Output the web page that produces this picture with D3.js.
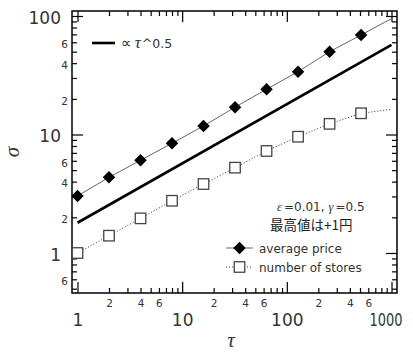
<!DOCTYPE html>
<html>
<head>
<meta charset="utf-8">
<script src="https://cdn.jsdelivr.net/npm/d3@7/dist/d3.min.js"></script>
<style>
  html, body { margin: 0; padding: 0; background: #fff; }
  svg { display: block; }
</style>
</head>
<body>
<script>
// data (tau = 1..512 by powers of two, line tails end at 1000)
const tau = [1, 2, 4, 8, 16, 32, 64, 128, 256, 512, 1000];
const avgPrice = [3.03, 4.35, 6.06, 8.43, 11.8, 17.0, 24.1, 33.9, 50.0, 69.2, 95];
const numStores = [1.0, 1.40, 1.96, 2.76, 3.82, 5.25, 7.26, 9.58, 12.3, 15.1, 16.3];
const markerCount = 10; // last point is only the end of the line

const refTau = [1, 1000];
const refSigma = [1.8, 57];

const xMajor = [1, 10, 100, 1000];
const xMajorLabels = ['1', '10', '100', '1000'];
const yMajor = [1, 10, 100];
const yMajorLabels = ['1', '10', '100'];
const minorSteps = [2, 3, 4, 5, 6, 7, 8, 9];
const minorLabelled = [2, 4, 6];

const W = 413, H = 353;
const frame = { left: 72, top: 11, right: 397, bottom: 293 };
const sans = 'DejaVu Sans, sans-serif';
const serif = 'Liberation Serif, DejaVu Serif, serif';

const x = d3.scaleLog().domain([1, 1000]).range([77.5, 391.5]);
const y = d3.scaleLog().domain([1, 100]).range([253, 16]);

const xLo = x.invert(frame.left), xHi = x.invert(frame.right);
const yLo = y.invert(frame.bottom), yHi = y.invert(frame.top);

const xMinor = [1, 10, 100].flatMap(d => minorSteps.map(m => m * d)).filter(v => v > xLo && v < xHi);
const yMinor = [0.1, 1, 10].flatMap(d => minorSteps.map(m => m * d)).filter(v => v > yLo && v < yHi);

const minorFmt = v => {
  const m = Math.round(v / Math.pow(10, Math.floor(Math.log10(v) + 1e-9)));
  return minorLabelled.includes(m) ? String(m) : '';
};

const svg = d3.select('body').append('svg')
  .attr('width', W)
  .attr('height', H);

function styleAxis(g, size) {
  g.select('.domain').remove();
  g.selectAll('line').attr('stroke', '#000').attr('stroke-width', 1.2);
  g.selectAll('text')
    .attr('font-family', sans)
    .attr('font-size', size)
    .attr('fill', '#333');
}

// lays text pieces side by side, each its own element
function textRun(x0, y0, parts) {
  let cx = x0;
  parts.forEach(p => {
    const t = svg.append('text')
      .attr('x', cx)
      .attr('y', y0)
      .attr('font-family', p.serif ? serif : (p.family || sans))
      .attr('font-style', p.serif ? 'italic' : null)
      .attr('font-size', p.size)
      .attr('fill', p.fill || '#333')
      .text(p.text);
    cx += t.node().getComputedTextLength() + (p.gap || 0);
  });
}

// left axis
svg.append('g')
  .attr('transform', `translate(${frame.left},0)`)
  .call(d3.axisLeft(y).tickValues(yMajor).tickSize(-11).tickPadding(11)
    .tickFormat((d, i) => yMajorLabels[i]))
  .call(g => styleAxis(g, 17))
  .call(g => g.selectAll('text').attr('dy', '0.42em'));

svg.append('g')
  .attr('transform', `translate(${frame.left},0)`)
  .call(d3.axisLeft(y).tickValues(yMinor).tickSize(-5).tickPadding(4).tickFormat(minorFmt))
  .call(g => styleAxis(g, 10.5))
  .call(g => g.selectAll('text').attr('dy', '0.5em'));

// right axis
svg.append('g')
  .attr('transform', `translate(${frame.right},0)`)
  .call(d3.axisRight(y).tickValues(yMajor).tickSize(-11).tickFormat(''))
  .call(g => styleAxis(g, 10));
svg.append('g')
  .attr('transform', `translate(${frame.right},0)`)
  .call(d3.axisRight(y).tickValues(yMinor).tickSize(-5).tickFormat(''))
  .call(g => styleAxis(g, 10));

// bottom axis
svg.append('g')
  .attr('transform', `translate(0,${frame.bottom})`)
  .call(d3.axisBottom(x).tickValues(xMajor).tickSize(-11).tickPadding(21)
    .tickFormat((d, i) => xMajorLabels[i]))
  .call(g => styleAxis(g, 17))
  .call(g => g.selectAll('text').filter(d => d === 1000)
    .attr('x', -6).attr('textLength', 33).attr('lengthAdjust', 'spacingAndGlyphs'));

svg.append('g')
  .attr('transform', `translate(0,${frame.bottom})`)
  .call(d3.axisBottom(x).tickValues(xMinor).tickSize(-5).tickPadding(7).tickFormat(minorFmt))
  .call(g => styleAxis(g, 10.5));

// top axis
svg.append('g')
  .attr('transform', `translate(0,${frame.top})`)
  .call(d3.axisTop(x).tickValues(xMajor).tickSize(-11).tickFormat(''))
  .call(g => styleAxis(g, 10));
svg.append('g')
  .attr('transform', `translate(0,${frame.top})`)
  .call(d3.axisTop(x).tickValues(xMinor).tickSize(-5).tickFormat(''))
  .call(g => styleAxis(g, 10));

// frame
svg.append('rect')
  .attr('x', frame.left)
  .attr('y', frame.top)
  .attr('width', frame.right - frame.left)
  .attr('height', frame.bottom - frame.top)
  .attr('fill', 'none')
  .attr('stroke', '#000')
  .attr('stroke-width', 1.5);

const line = d3.line().x(d => x(d[0])).y(d => y(d[1]));

// reference slope line
svg.append('path')
  .datum(d3.zip(refTau, refSigma))
  .attr('d', line)
  .attr('fill', 'none')
  .attr('stroke', '#000')
  .attr('stroke-width', 2.6);

// number of stores
const stores = d3.zip(tau, numStores);
svg.append('path')
  .datum(stores)
  .attr('d', line)
  .attr('fill', 'none')
  .attr('stroke', '#333')
  .attr('stroke-width', 1)
  .attr('stroke-dasharray', '1,2');

svg.selectAll('rect.store')
  .data(stores.slice(0, markerCount))
  .enter()
  .append('rect')
  .attr('class', 'store')
  .attr('x', d => x(d[0]) - 5.25)
  .attr('y', d => y(d[1]) - 5.25)
  .attr('width', 10.5)
  .attr('height', 10.5)
  .attr('fill', '#fff')
  .attr('stroke', '#444')
  .attr('stroke-width', 1.3);

// average price
const price = d3.zip(tau, avgPrice);
svg.append('path')
  .datum(price)
  .attr('d', line)
  .attr('fill', 'none')
  .attr('stroke', '#666')
  .attr('stroke-width', 1);

const diamond = d3.symbol().type(d3.symbolSquare).size(78);
svg.selectAll('path.price')
  .data(price.slice(0, markerCount))
  .enter()
  .append('path')
  .attr('class', 'price')
  .attr('d', diamond)
  .attr('transform', d => `translate(${x(d[0])},${y(d[1])}) rotate(45)`)
  .attr('fill', '#000');

// slope legend (top left)
svg.append('line')
  .attr('x1', 92).attr('x2', 115)
  .attr('y1', 43).attr('y2', 43)
  .attr('stroke', '#000')
  .attr('stroke-width', 2.6);

textRun(121, 47.5, [
  { text: '∝', size: 15, gap: 3 },
  { text: 'τ', size: 17, serif: true, gap: 1 },
  { text: '^0.5', size: 12.5 }
]);

// parameter note
textRun(277, 211, [
  { text: 'ε', size: 12.5, serif: true, gap: 2 },
  { text: '=0.01,', size: 12, gap: 4 },
  { text: 'γ', size: 12.5, serif: true, gap: 2 },
  { text: '=0.5', size: 12 }
]);

svg.append('text')
  .attr('x', 270)
  .attr('y', 229.5)
  .attr('font-family', 'Noto Sans CJK JP, sans-serif')
  .attr('font-size', 13.5)
  .attr('fill', '#222')
  .text('最高値は+1円');

// series legend (bottom right)
const legendRows = [
  { label: 'average price', y: 248, dash: null, stroke: '#666' },
  { label: 'number of stores', y: 267, dash: '1,2', stroke: '#333' }
];
const lg = svg.append('g');
lg.selectAll('line')
  .data(legendRows)
  .enter()
  .append('line')
  .attr('x1', 226).attr('x2', 253)
  .attr('y1', d => d.y).attr('y2', d => d.y)
  .attr('stroke', d => d.stroke)
  .attr('stroke-width', 1)
  .attr('stroke-dasharray', d => d.dash);
lg.append('path')
  .attr('d', diamond)
  .attr('transform', `translate(239.5,${legendRows[0].y}) rotate(45)`)
  .attr('fill', '#000');
lg.append('rect')
  .attr('x', 234.25).attr('y', legendRows[1].y - 5.25)
  .attr('width', 10.5).attr('height', 10.5)
  .attr('fill', '#fff')
  .attr('stroke', '#444')
  .attr('stroke-width', 1.3);
lg.selectAll('text')
  .data(legendRows)
  .enter()
  .append('text')
  .attr('x', 259)
  .attr('y', d => d.y + 4.5)
  .attr('font-family', sans)
  .attr('font-size', 12)
  .attr('fill', '#333')
  .text(d => d.label);

// axis titles
svg.append('text')
  .attr('x', 231)
  .attr('y', 347)
  .attr('text-anchor', 'middle')
  .attr('font-family', serif)
  .attr('font-style', 'italic')
  .attr('font-size', 21)
  .attr('fill', '#333')
  .text('τ');

svg.append('text')
  .attr('transform', 'translate(19,152) rotate(-90)')
  .attr('text-anchor', 'middle')
  .attr('font-family', serif)
  .attr('font-style', 'italic')
  .attr('font-size', 21)
  .attr('fill', '#333')
  .text('σ');
</script>
</body>
</html>
